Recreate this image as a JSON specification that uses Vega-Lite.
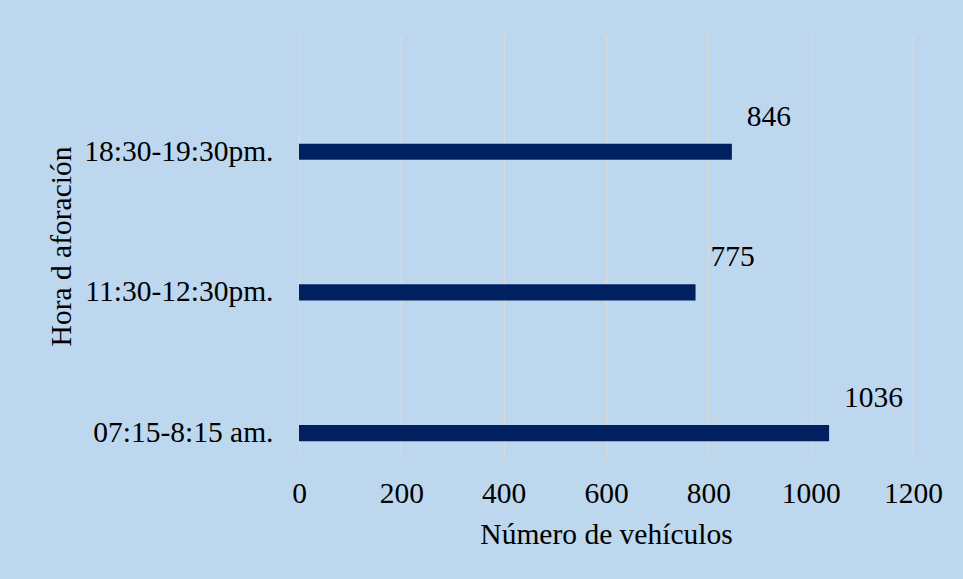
{
  "$schema": "https://vega.github.io/schema/vega-lite/v6.json",
  "width": 614,
  "height": 422,
  "autosize": {"type": "none"},
  "padding": {"left": 299, "top": 35, "right": 50, "bottom": 122},
  "background": "#BDD7EE",
  "config": {
    "view": {"stroke": null},
    "font": "Liberation Serif",
    "axis": {"labelFont": "Liberation Serif", "titleFont": "Liberation Serif", "labelColor": "#000000", "titleColor": "#000000", "titleFontWeight": "normal"}
  },
  "data": {
    "values": [
      {"hora": "18:30-19:30pm.", "vehiculos": 846},
      {"hora": "11:30-12:30pm.", "vehiculos": 775},
      {"hora": "07:15-8:15 am.", "vehiculos": 1036}
    ]
  },
  "encoding": {
    "y": {
      "field": "hora",
      "type": "nominal",
      "sort": ["18:30-19:30pm.", "11:30-12:30pm.", "07:15-8:15 am."],
      "scale": {"paddingInner": 0.885, "paddingOuter": 0.4425, "align": 0.873},
      "axis": {
        "title": "Hora d aforación",
        "titleFontSize": 29.5,
        "titleX": -238,
        "titleY": 211,
        "titleAlign": "center",
        "titleBaseline": "middle",
        "titleAngle": -90,
        "labelFontSize": 29.5,
        "labelPadding": 26,
        "labelLimit": 0,
        "domain": false,
        "ticks": false,
        "tickSize": 0,
        "grid": false
      }
    },
    "x": {
      "field": "vehiculos",
      "type": "quantitative",
      "scale": {"domain": [0, 1200], "nice": false},
      "axis": {
        "title": "Número de vehículos",
        "titleFontSize": 29.5,
        "titleBaseline": "alphabetic",
        "titleY": 86,
        "labelFontSize": 29.5,
        "labelBaseline": "alphabetic",
        "labelPadding": 45,
        "labelFlush": false,
        "labelOverlap": false,
        "format": "d",
        "values": [0, 200, 400, 600, 800, 1000, 1200],
        "domain": false,
        "ticks": false,
        "tickSize": 0,
        "grid": true,
        "gridColor": "#D9D9D9",
        "gridWidth": 1.5
      }
    }
  },
  "layer": [
    {"mark": {"type": "bar", "color": "#002060"}},
    {
      "mark": {"type": "text", "align": "left", "baseline": "middle", "dx": 15, "dy": -35, "fontSize": 29.5, "color": "#000000", "font": "Liberation Serif"},
      "encoding": {"text": {"field": "vehiculos", "type": "quantitative", "format": "d"}}
    }
  ]
}
